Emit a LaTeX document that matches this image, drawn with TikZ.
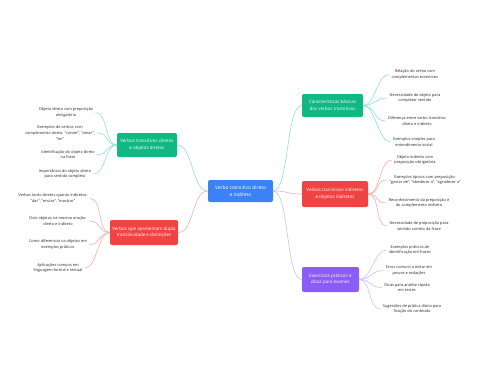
\documentclass[tikz,border=0pt]{standalone}
\usepackage{fontspec}
\setmainfont{Open Sans}
\definecolor{hubblue}{HTML}{3B82F6}
\definecolor{mapgreen}{HTML}{10B981}
\definecolor{mapred}{HTML}{EF4444}
\definecolor{mappurple}{HTML}{8B5CF6}
\definecolor{linegreen}{HTML}{86E3C0}
\definecolor{linered}{HTML}{F7A8A8}
\definecolor{linepurple}{HTML}{C7B8FB}
\begin{document}
\begin{tikzpicture}[
  x=1pt,
  y=-1pt,
  line cap=round,
  line join=round,
  hub/.style={rectangle,rounded corners=2pt,fill=hubblue,text=white,
    align=center,inner sep=1pt,font=\fontsize{4.9}{6.8}\selectfont},
  branchbox/.style={rectangle,rounded corners=2pt,text=white,
    align=center,inner sep=1pt,font=\fontsize{4.5}{6.5}\selectfont},
  leaf/.style={align=center,inner sep=2.5pt,text=black!85,
    font=\fontsize{3.9}{5.8}\selectfont},
  link/.style={line width=0.55pt}
]
  \useasboundingbox (0,0) rectangle (480,384);

  % Centre and the five branches.
  \node[hub,minimum width=65pt,minimum height=22pt] (root) at (240.5,191)
    {Verbo transitivo direto\\e indireto};
  \node[branchbox,fill=mapgreen,minimum width=60pt,minimum height=24pt]
    (dirobj) at (147,145) {Verbos transitivos diretos\\e objetos diretos};
  \node[branchbox,fill=mapred,minimum width=68pt,minimum height=25pt]
    (dual) at (144,232.5)
    {Verbos que apresentam dupla\\transitividade e distinções};
  \node[branchbox,fill=mapgreen,minimum width=61pt,minimum height=23pt]
    (basics) at (332.5,105.5)
    {Características básicas\\dos verbos transitivos};
  \node[branchbox,fill=mapred,minimum width=66pt,minimum height=26pt]
    (indobj) at (335,194)
    {Verbos transitivos indiretos\\e objetos indiretos};
  \node[branchbox,fill=mappurple,minimum width=57pt,minimum height=25pt]
    (drills) at (330.5,279.5) {Exercícios práticos e\\dicas para exames};

  \draw[link,draw=linegreen] (root.west)
    .. controls +(-16,0) and +(16,0) .. (dirobj.east);
  \draw[link,draw=linered] (root.west)
    .. controls +(-16,0) and +(16,0) .. (dual.east);
  \draw[link,draw=linegreen] (root.east)
    .. controls +(16,0) and +(-16,0) .. (basics.west);
  \draw[link,draw=linered] (root.east)
    .. controls +(16,0) and +(-16,0) .. (indobj.west);
  \draw[link,draw=linepurple] (root.east)
    .. controls +(16,0) and +(-16,0) .. (drills.west);

  % Left side: direct objects.
  \foreach \k/\x/\y/\txt in {
      1/66/112.5/{Objeto direto com preposição\\obrigatória},
      2/60/133/{Exemplos de verbos com\\complemento direto: "comer", "amar",\\"ler"},
      3/68/154.5/{Identificação do objeto direto\\na frase},
      4/65/174/{Importância do objeto direto\\para sentido completo}} {
    \node[leaf] (dl\k) at (\x,\y) {\txt};
    \draw[link,draw=linegreen] (dirobj.west)
      .. controls +(-12,0) and +(12,0) .. (dl\k.east);
  }

  % Left side: double transitivity.
  \foreach \k/\x/\y/\txt in {
      1/53/198.5/{Verbos tanto diretos quanto indiretos:\\"dar", "enviar", "mostrar"},
      2/58/221/{Dois objetos na mesma oração:\\direto e indireto},
      3/58/244.5/{Como diferenciar os objetos em\\exemplos práticos},
      4/58/268/{Aplicações comuns em\\linguagem formal e textual}} {
    \node[leaf] (ul\k) at (\x,\y) {\txt};
    \draw[link,draw=linered] (dual.west)
      .. controls +(-12,0) and +(12,0) .. (ul\k.east);
  }

  % Right side: basics.
  \foreach \k/\x/\y/\txt in {
      1/415/74.5/{Relação do verbo com\\complementos essenciais},
      2/415/98/{Necessidade de objeto para\\completar sentido},
      3/417/121/{Diferença entre verbo transitivo\\direto e indireto},
      4/414/142/{Exemplos simples para\\entendimento inicial}} {
    \node[leaf] (bl\k) at (\x,\y) {\txt};
    \draw[link,draw=linegreen] (basics.east)
      .. controls +(12,0) and +(-12,0) .. (bl\k.west);
  }

  % Right side: indirect objects.
  \foreach \k/\x/\y/\txt in {
      1/415/160/{Objeto indireto com\\preposição obrigatória},
      2/425/180/{Exemplos típicos com preposição:\\"gostar de", "obedecer a", "agradecer a"},
      3/419/203/{Reconhecimento da preposição e\\do complemento indireto},
      4/419/226/{Necessidade de preposição para\\sentido correto da frase}} {
    \node[leaf] (il\k) at (\x,\y) {\txt};
    \draw[link,draw=linered] (indobj.east)
      .. controls +(12,0) and +(-12,0) .. (il\k.west);
  }

  % Right side: exercises.
  \foreach \k/\x/\y/\txt in {
      1/410/250/{Exemplos práticos de\\identificação em frases},
      2/409/270.5/{Erros comuns a evitar em\\provas e redações},
      3/407/287.5/{Dicas para análise rápida\\em testes},
      4/412/309/{Sugestões de prática diária para\\fixação do conteúdo}} {
    \node[leaf] (xl\k) at (\x,\y) {\txt};
    \draw[link,draw=linepurple] (drills.east)
      .. controls +(12,0) and +(-12,0) .. (xl\k.west);
  }
\end{tikzpicture}
\end{document}
